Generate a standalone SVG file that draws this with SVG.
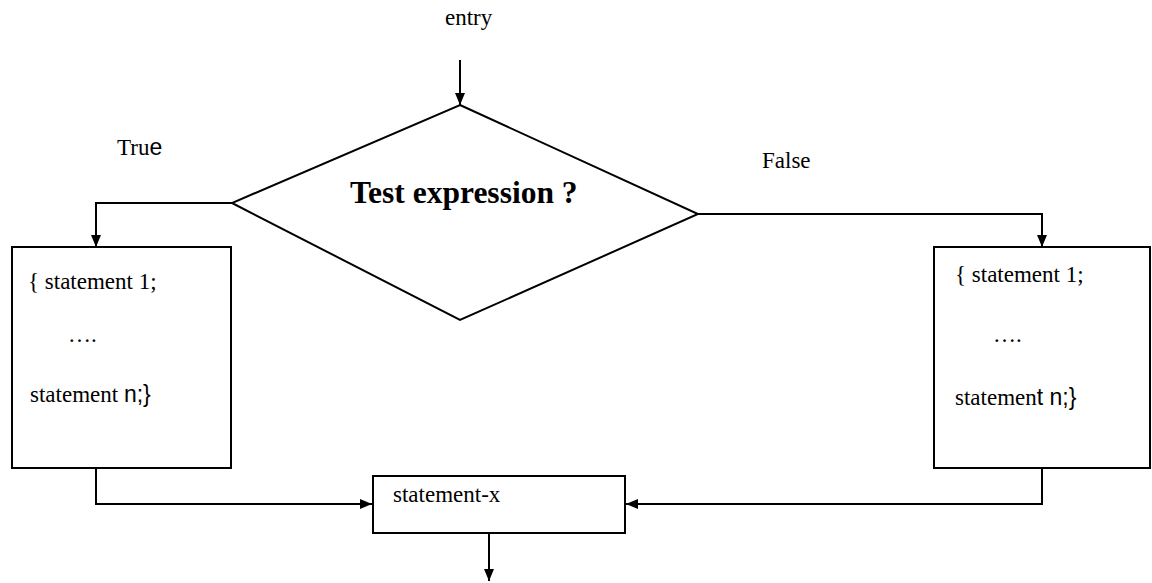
<svg xmlns="http://www.w3.org/2000/svg" width="1152" height="583" viewBox="0 0 1152 583">
  <style>
    .shape { fill: #ffffff; stroke: #000000; stroke-width: 2; }
    .wire { fill: none; stroke: #000000; stroke-width: 2; }
    .txt { font-family: "Liberation Serif", "Times New Roman", serif; font-size: 23px; fill: #000000; }
    .sans { font-family: "Liberation Sans", Arial, sans-serif; font-size: 23px; }
    .title { font-family: "Liberation Serif", "Times New Roman", serif; font-size: 31.5px; font-weight: bold; fill: #000000; }
  </style>
  <defs>
    <marker id="arrow" viewBox="0 0 12 10" refX="12" refY="5" markerWidth="12" markerHeight="10" markerUnits="userSpaceOnUse" orient="auto">
      <path d="M0,0 L12,5 L0,10 Z" fill="#000000"/>
    </marker>
  </defs>

  <rect width="1152" height="583" fill="#ffffff"/>

  <!-- connectors -->
  <g id="connectors">
    <line class="wire" x1="460" y1="60" x2="460" y2="105" marker-end="url(#arrow)"/>
    <polyline class="wire" points="232,203 96,203 96,247" marker-end="url(#arrow)"/>
    <polyline class="wire" points="698,214 1042,214 1042,247" marker-end="url(#arrow)"/>
    <polyline class="wire" points="96,468 96,504 372,504" marker-end="url(#arrow)"/>
    <polyline class="wire" points="1042,468 1042,504 626,504" marker-end="url(#arrow)"/>
    <line class="wire" x1="489" y1="534" x2="489" y2="581" marker-end="url(#arrow)"/>
  </g>

  <!-- branch labels -->
  <text id="label-entry" class="txt" x="445" y="25" font-size="22">entry</text>
  <text id="label-true" class="txt" x="117" y="155">Tru<tspan class="sans" font-size="24">e</tspan></text>
  <text id="label-false" class="txt" x="762" y="168">False</text>

  <!-- decision -->
  <g id="decision">
    <polygon class="shape" points="460,105 698,214 460,320 232,203"/>
    <text class="title" x="350" y="203">Test expression ?</text>
  </g>

  <!-- true branch block -->
  <g id="block-true">
    <rect class="shape" x="12" y="247" width="219" height="221"/>
    <text class="txt" x="28" y="289">{ statement 1;</text>
    <text class="txt" x="68" y="342">….</text>
    <text class="txt" x="30" y="402">statement <tspan class="sans">n;}</tspan></text>
  </g>

  <!-- false branch block -->
  <g id="block-false">
    <rect class="shape" x="934" y="247" width="216" height="221"/>
    <text class="txt" x="955" y="282">{ statement 1;</text>
    <text class="txt" x="993" y="342">….</text>
    <text class="txt" x="955" y="405">statemen<tspan class="sans">t n;}</tspan></text>
  </g>

  <!-- join -->
  <g id="statement-x">
    <rect class="shape" x="373" y="476" width="252" height="57"/>
    <text class="txt" x="393" y="502">statement-x</text>
  </g>
</svg>
